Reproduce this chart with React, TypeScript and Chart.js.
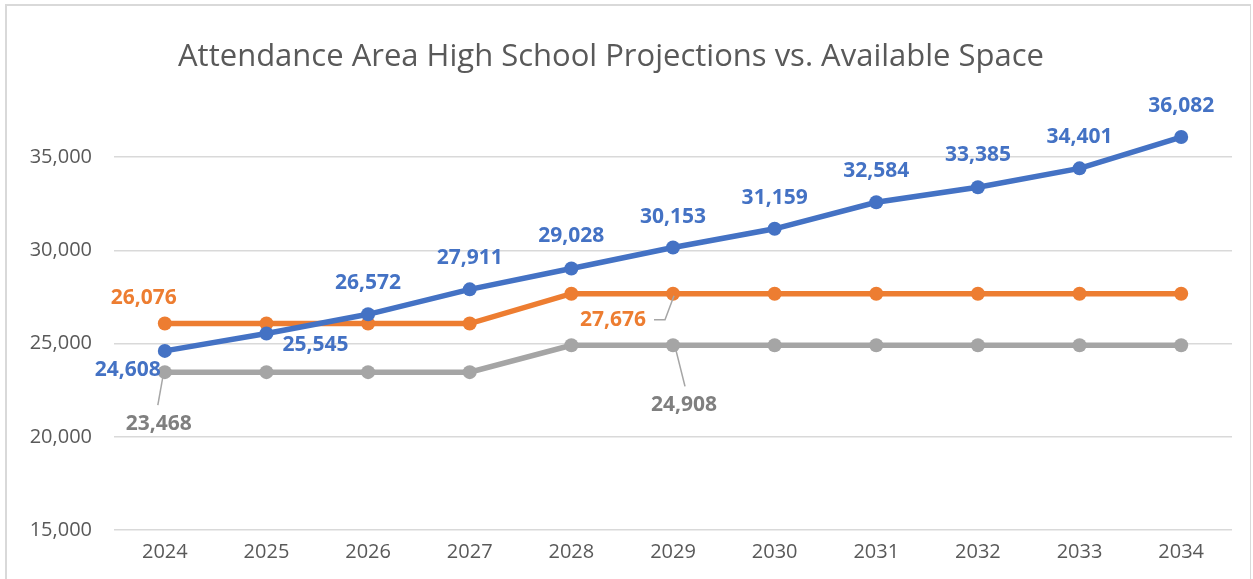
import React, { useEffect, useRef } from "react";
import { Chart, registerables } from "chart.js";

Chart.register(...registerables);

const years = ["2024", "2025", "2026", "2027", "2028", "2029", "2030", "2031", "2032", "2033", "2034"];
const projections = [24608, 25545, 26572, 27911, 29028, 30153, 31159, 32584, 33385, 34401, 36082];
const capacityA = [26076, 26076, 26076, 26076, 27676, 27676, 27676, 27676, 27676, 27676, 27676];
const capacityB = [23468, 23468, 23468, 23468, 24908, 24908, 24908, 24908, 24908, 24908, 24908];
const yTicks = [15000, 20000, 25000, 30000, 35000];

const TITLE = "Attendance Area High School Projections vs. Available Space";
const FONT = "'Open Sans', 'Noto Sans', sans-serif";

const BLUE = "#4472C4";
const ORANGE = "#ED7D31";
const GRAY = "#A5A5A5";

type LabelSpec = { ds: number; i: number; dx: number; dy: number; color: string; leader?: number[][] };

const labelSpecs: LabelSpec[] = [
  { ds: 0, i: 0, dx: -37, dy: 19, color: BLUE },
  { ds: 0, i: 1, dx: 49, dy: 12, color: BLUE },
  { ds: 0, i: 2, dx: 0, dy: -31, color: BLUE },
  { ds: 0, i: 3, dx: 0, dy: -31, color: BLUE },
  { ds: 0, i: 4, dx: 0, dy: -33, color: BLUE },
  { ds: 0, i: 5, dx: 0, dy: -31, color: BLUE },
  { ds: 0, i: 6, dx: 0, dy: -31, color: BLUE },
  { ds: 0, i: 7, dx: 0, dy: -31, color: BLUE },
  { ds: 0, i: 8, dx: 0, dy: -32, color: BLUE },
  { ds: 0, i: 9, dx: 0, dy: -31, color: BLUE },
  { ds: 0, i: 10, dx: 0, dy: -31, color: BLUE },
  { ds: 1, i: 0, dx: -21, dy: -26, color: ORANGE },
  { ds: 1, i: 5, dx: -60, dy: 26, color: ORANGE, leader: [[-19, 26], [-8, 26], [1, 2]] },
  { ds: 2, i: 0, dx: -6, dy: 52, color: "#7F7F7F", leader: [[-2, 5], [-7, 33]] },
  { ds: 2, i: 5, dx: 11, dy: 60, color: "#7F7F7F", leader: [[3, 5], [12, 41]] },
];

const fmt = (v: number) => v.toLocaleString("en-US");

const titlePlugin = {
  id: "customTitle",
  afterDraw(chart: any) {
    const ctx = chart.ctx;
    ctx.save();
    ctx.font = `31px ${FONT}`;
    ctx.fillStyle = "#595959";
    ctx.textAlign = "center";
    ctx.textBaseline = "middle";
    ctx.fillText(TITLE, 611, 57);
    ctx.restore();
  },
};

const labelPlugin = {
  id: "pointLabels",
  afterDatasetsDraw(chart: any) {
    const ctx = chart.ctx;
    ctx.save();
    for (const s of labelSpecs) {
      const meta = chart.getDatasetMeta(s.ds);
      const pt = meta.data[s.i];
      if (!pt) continue;
      const value = chart.data.datasets[s.ds].data[s.i] as number;
      if (s.leader) {
        ctx.beginPath();
        ctx.strokeStyle = "#A6A6A6";
        ctx.lineWidth = 1.5;
        s.leader.forEach((p, k) => {
          const x = pt.x + p[0];
          const y = pt.y + p[1];
          if (k === 0) ctx.moveTo(x, y);
          else ctx.lineTo(x, y);
        });
        ctx.stroke();
      }
      ctx.font = `bold 21px ${FONT}`;
      ctx.fillStyle = s.color;
      ctx.textAlign = "center";
      ctx.textBaseline = "middle";
      ctx.fillText(fmt(value), pt.x + s.dx, pt.y + s.dy);
    }
    ctx.restore();
  },
};

export default function App() {
  const canvasRef = useRef<HTMLCanvasElement | null>(null);

  useEffect(() => {
    if (!canvasRef.current) return;
    const mk = (label: string, data: number[], color: string) => ({
      label,
      data,
      borderColor: color,
      backgroundColor: color,
      borderWidth: 5.5,
      pointRadius: 7,
      pointHoverRadius: 7,
      pointBackgroundColor: color,
      pointBorderColor: color,
      pointBorderWidth: 0,
      tension: 0,
    });
    const chart = new Chart(canvasRef.current, {
      type: "line",
      data: {
        labels: years,
        datasets: [
          mk("Projections", projections, BLUE),
          mk("Available Space A", capacityA, ORANGE),
          mk("Available Space B", capacityB, GRAY),
        ],
      },
      options: {
        animation: false,
        responsive: false,
        devicePixelRatio: 1,
        layout: { padding: { top: 64, right: 21, bottom: 0, left: 0 } },
        plugins: {
          legend: { display: false },
          title: { display: false },
          tooltip: { enabled: false },
        },
        scales: {
          x: {
            type: "category",
            offset: true,
            grid: { display: false, drawTicks: false },
            border: { display: false },
            ticks: {
              color: "#595959",
              font: { family: FONT, size: 20 },
              padding: 10,
              maxRotation: 0,
              autoSkip: false,
            },
            afterFit: (scale: any) => {
              scale.height = 49;
            },
          },
          y: {
            min: 15000,
            max: 40000,
            grid: { color: "#D9D9D9", lineWidth: 1.5, drawTicks: false },
            border: { display: false },
            ticks: {
              color: "#595959",
              font: { family: FONT, size: 20 },
              padding: 22,
              stepSize: 5000,
              callback: (v: any) => fmt(Number(v)),
            },
            afterBuildTicks: (scale: any) => {
              scale.ticks = yTicks.map((v) => ({ value: v }));
            },
            afterFit: (scale: any) => {
              scale.width = 114;
            },
          },
        },
      },
      plugins: [titlePlugin, labelPlugin],
    });
    return () => chart.destroy();
  }, []);

  return (
    <div
      style={{
        position: "absolute",
        left: 0,
        top: 0,
        width: 1253,
        height: 579,
        overflow: "hidden",
        background: "#fff",
      }}
    >
      <div
        style={{
          position: "absolute",
          left: 5,
          top: 4,
          width: 1246,
          height: 620,
          borderTop: "2px solid #D9D9D9",
          borderLeft: "2px solid #D9D9D9",
          borderRight: "1px solid #D9D9D9",
          boxSizing: "border-box",
        }}
      />
      <canvas
        ref={canvasRef}
        width={1253}
        height={579}
        style={{ position: "absolute", left: 0, top: 0, width: 1253, height: 579 }}
      />
    </div>
  );
}
